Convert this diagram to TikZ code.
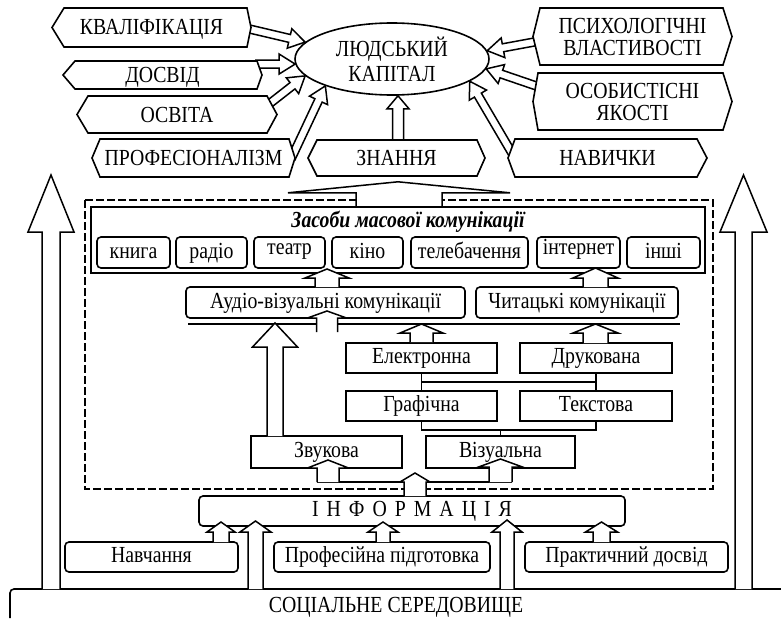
\documentclass[tikz,border=0pt]{standalone}
\usepackage{fontspec}
\setmainfont{Liberation Serif}[FakeStretch=0.86]
\usetikzlibrary{calc,shapes.geometric}
\pgfdeclarelayer{bg}
\pgfsetlayers{bg,main}
% box from corners: [style]{name}{x1}{y1}{x2}{y2}{text}
\newcommand{\bx}[7][]{\node[#1, minimum width={(#5-#3)*1pt}, minimum height={(#6-#4)*1pt}] (#2) at ({(#3+#5)/2},{(#4+#6)/2}) {#7};}
% hexagon: [style]{name}{cx}{cy}{w}{h}{left depth}{right depth}{text}
\newcommand{\hexbox}[9][]{%
 \draw[line width=1.6pt, fill=white, line join=miter] ({#3-#5/2},#4) -- ({#3-#5/2+#7},{#4-#6/2}) -- ({#3+#5/2-#8},{#4-#6/2}) -- ({#3+#5/2},#4) -- ({#3+#5/2-#8},{#4+#6/2}) -- ({#3-#5/2+#7},{#4+#6/2}) -- cycle;
 \node[txt, minimum width={#5*1pt}, minimum height={#6*1pt}, #1] (#2) at (#3,#4) {#9};}
% hollow arrow: [style]{from}{to}{shaft half}{head half}{head length}
\newcommand{\harr}[6][]{%
 \path ($#3!#6pt!#2$) coordinate (hb);
 \draw[harrow,#1] ($#2!#4pt!90:#3$) -- ($(hb)!#4pt!90:#3$) -- ($(hb)!#5pt!90:#3$) -- #3 -- ($(hb)!#5pt!-90:#3$) -- ($(hb)!#4pt!-90:#3$) -- ($#2!#4pt!-90:#3$);}
\begin{document}
\begin{tikzpicture}[x=1pt,y=-1pt,line width=1.5pt,
 txt/.style={inner sep=0pt, font=\fontsize{23}{22}\selectfont, align=center},
 caps/.style={text height=15pt, text depth=0pt},
 one/.style={text height=15pt, text depth=4pt},
 box/.style={txt, one, draw, line width=1.6pt, fill=white},
 rbox/.style={box, rounded corners=4pt},
 harrow/.style={draw, fill=white, line width=1.5pt, line join=miter},
 link/.style={draw, line width=1.5pt},
 dbox/.style={draw, line width=1.5pt, dash pattern=on 8pt off 3pt}]
\useasboundingbox (0,0) rectangle (781,618);

% ---------- top part ----------
\hexbox[caps]{kv}{151.5}{27.5}{199}{39}{12}{4}{КВАЛІФІКАЦІЯ}
\hexbox[caps]{ds}{162.5}{75}{199}{28}{12}{5}{ДОСВІД}
\hexbox[caps]{os}{177}{114.5}{200}{37}{11}{10}{ОСВІТА}
\hexbox[caps]{pr}{193.5}{158}{203}{38}{8}{6}{ПРОФЕСІОНАЛІЗМ}
\hexbox[caps]{zn}{396.5}{158}{177}{36}{9}{8}{ЗНАННЯ}
\hexbox[caps]{nv}{607.5}{158}{199}{38}{7}{10}{НАВИЧКИ}
\hexbox{ps}{632.5}{36.5}{199}{57}{7}{9}{ПСИХОЛОГІЧНІ\\ВЛАСТИВОСТІ}
\hexbox{ob}{632.5}{101.5}{199}{57}{5}{9}{ОСОБИСТІСНІ\\ЯКОСТІ}
\node[txt, font=\fontsize{23}{25}\selectfont, draw, ellipse, line width=1.6pt, fill=white, minimum width=194pt, minimum height=72pt] (hc) at (392,59) {ЛЮДСЬКИЙ\\КАПІТАЛ};

\coordinate (kvt) at (241,27);
\coordinate (dst) at (255,64);
\coordinate (ost) at (264,108);
\coordinate (prt) at (291,159);
\coordinate (pst) at (545,40);
\coordinate (obt) at (548,90);
\coordinate (nvt) at (516,160);
\coordinate (znt) at (398,148);
\coordinate (znh) at ($(hc.south)+(6,0)$);
\begin{pgfonlayer}{bg}
\harr{(kvt)}{(hc.169)}{4}{10}{16}
\harr{(dst)}{(hc.183)}{4}{10}{16}
\harr{(ost)}{(hc.191)}{4}{10}{16}
\harr{(prt)}{(hc.202)}{4}{10}{16}
\harr{(pst)}{(hc.5)}{4}{10}{16}
\harr{(obt)}{(hc.-6)}{4}{10}{16}
\harr{(nvt)}{(hc.-16)}{4}{10}{16}
\harr{(znt)}{(znh)}{5.5}{11}{13}
\end{pgfonlayer}

% ---------- dashed frame and mass media ----------
\draw[dbox] (85,200) rectangle (713,489);
\bx{mm}{91}{207}{705}{273}{}
\draw[harrow] ($(mm.north)+(-42,-1)$) -- ++(0,-13) -- ++(-68,0) -- ($(mm.north)+(0,-25)$) -- ($(mm.north)+(112,-14)$) -- ++(-68,0) -- ($(mm.north)+(44,-1)$);
\draw[line width=1.6pt] (mm.north west) rectangle (mm.south east);
\node[txt, font=\fontsize{23}{22}\selectfont\bfseries\itshape] (ttl) at (408,222) {Засоби масової комунікації};
\bx[rbox]{m1}{97}{237}{170}{268}{книга}
\bx[rbox]{m2}{176}{237}{247}{268}{радіо}
\bx[rbox]{m3}{254}{237}{325}{268}{\raisebox{3.5pt}{театр}}
\bx[rbox]{m4}{332}{237}{403}{268}{кіно}
\bx[rbox]{m5}{411}{237}{528}{268}{телебачення}
\bx[rbox]{m6}{537}{237}{620}{268}{\raisebox{3.5pt}{інтернет}}
\bx[rbox]{m7}{627}{237}{700}{268}{інші}

\bx[rbox]{au}{186}{287}{465}{318}{Аудіо-візуальні комунікації}
\bx[rbox]{ch}{476}{287}{678}{318}{Читацькі комунікації}
\coordinate (a1s) at (327,287); \coordinate (a1e) at (327,269);
\coordinate (a2s) at (595.5,287); \coordinate (a2e) at (595.5,268);
\harr{(a1s)}{(a1e)}{12}{22}{9}
\harr{(a2s)}{(a2e)}{12.5}{22.5}{10}

% bus line
\coordinate (busl) at (188,324); \coordinate (busr) at (680,324);
\draw[link] (busl) -- (busr);

\bx[box]{el}{346}{343}{497}{373}{Електронна}
\bx[box]{dr}{520}{343}{672}{373}{Друкована}
\bx[box]{gr}{346}{391}{497}{421}{Графічна}
\bx[box]{tx}{520}{391}{672}{421}{Текстова}
\bx[box]{zv}{251}{436}{402}{468}{Звукова}
\bx[box]{vz}{426}{436}{575}{468}{Візуальна}

\draw[link] (el.south) -- (gr.north);
\draw[link] (dr.south) -- (tx.north);
\draw[link] ($(el.south)!0.5!(gr.north)$) -- ($(dr.south)!0.5!(tx.north)$);
\draw[link] (gr.south) -- ++(0,8) coordinate (gj) -| (tx.south);
\draw[link] (vz.north) -- (vz.north |- gj);

\coordinate (a3s) at (327,332); \coordinate (a3e) at (327,311);
\harr{(a3s)}{(a3e)}{10.5}{19.5}{7}
\coordinate (a4e) at (421.5,324);
\harr{(el.north)}{(a4e)}{11.5}{21.5}{9}
\coordinate (a5s) at (595.5,343); \coordinate (a5e) at (595.5,324);
\harr{(a5s)}{(a5e)}{12.5}{22.5}{9}
\coordinate (zvs) at (275,436); \coordinate (zve) at (275,323);
\harr{(zvs)}{(zve)}{8}{22.5}{24}

% fork from information
\coordinate (fl) at (317,482); \coordinate (fr) at (512,482);
\draw[link] (fl) -- (fr);
\coordinate (b1s) at (328,482); \coordinate (b1e) at (328,460);
\coordinate (b2s) at (500.5,482); \coordinate (b2e) at (500.5,459);
\harr{(b1s)}{(b1e)}{11}{20.5}{8}
\harr{(b2s)}{(b2e)}{11.5}{22}{8}

% ---------- information and sources ----------
\bx[rbox]{inf}{199}{496}{625}{526}{І\hspace{8pt}Н\hspace{8pt}Ф\hspace{8pt}О\hspace{8pt}Р\hspace{8pt}М\hspace{8pt}А\hspace{8pt}Ц\hspace{8pt}І\hspace{8pt}Я}
\coordinate (b3s) at (415,496); \coordinate (b3e) at (415,473);
\harr{(b3s)}{(b3e)}{11}{15}{9}

\bx[rbox]{nav}{65}{542}{238}{572}{Навчання}
\bx[rbox]{prof}{274}{542}{490}{572}{Професійна підготовка}
\bx[rbox]{prak}{525}{542}{728}{572}{Практичний досвід}

\draw[line width=1.6pt, rounded corners=4pt] (10,618) |- (781,589);
\node[txt, caps] (soc) at (396,605) {СОЦІАЛЬНЕ СЕРЕДОВИЩЕ};

\coordinate (c1s) at (221,542); \coordinate (c1e) at (221,522);
\coordinate (c2s) at (255.5,589); \coordinate (c2e) at (255.5,521);
\coordinate (c3s) at (383,542); \coordinate (c3e) at (383,522);
\coordinate (c4s) at (507,589); \coordinate (c4e) at (507,520);
\coordinate (c5s) at (601.5,542); \coordinate (c5e) at (601.5,522);
\harr{(c1s)}{(c1e)}{8}{14}{10}
\harr{(c2s)}{(c2e)}{7.5}{15.5}{11}
\harr{(c3s)}{(c3e)}{7}{15}{10}
\harr{(c4s)}{(c4e)}{7}{15}{12}
\harr{(c5s)}{(c5e)}{8.5}{16}{10}

% big side arrows
\coordinate (ls) at (51,589); \coordinate (le) at (51,175);
\coordinate (rs) at (743.5,589); \coordinate (re) at (743.5,175);
\harr{(ls)}{(le)}{9}{23}{57}
\harr{(rs)}{(re)}{8.5}{23.5}{57}
\end{tikzpicture}
\end{document}
